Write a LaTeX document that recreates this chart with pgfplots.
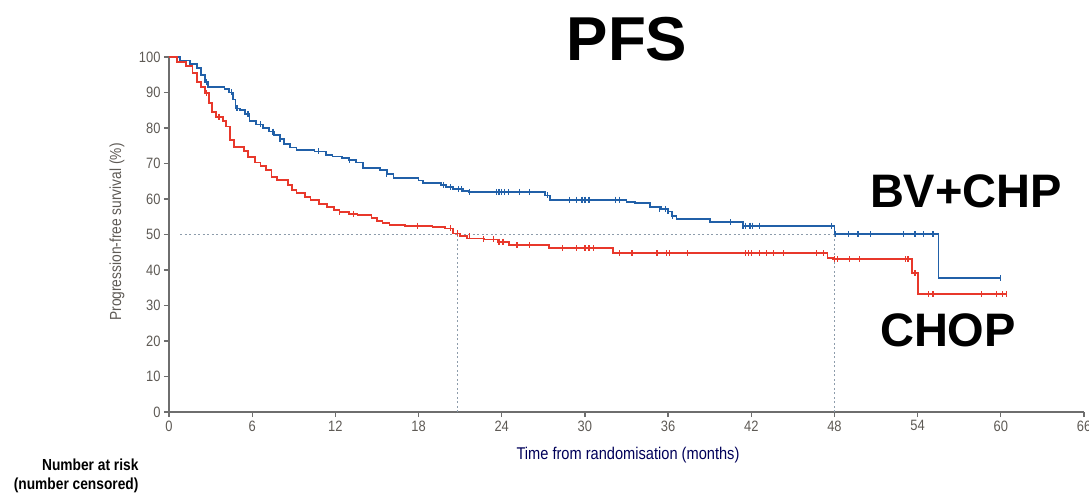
\documentclass[border=0pt]{standalone}
\usepackage{fontspec}
\setmainfont{Liberation Sans}
\newfontfamily\condfont[FakeStretch=0.86]{Liberation Sans}
\usepackage{pgfplots}
\pgfplotsset{compat=1.18}

\definecolor{bvblue}{HTML}{2160A8}
\definecolor{chopred}{HTML}{E8382B}
\definecolor{refgray}{HTML}{8D9CAB}
\definecolor{axgray}{HTML}{6E6E6E}
\definecolor{tickcol}{HTML}{5E5A55}

\begin{document}
\begin{tikzpicture}
\useasboundingbox (-169pt,-81pt) rectangle (920pt,412pt);
\begin{axis}[
    at={(0,0)}, anchor=origin,
    scale only axis,
    width=915pt, height=355pt,
    xmin=0, xmax=66, ymin=0, ymax=100,
    axis x line=bottom, axis y line=left,
    axis line style={-, axgray, line width=1.8pt},
    xtick={0,6,...,66}, ytick={0,10,...,100},
    tick align=outside,
    major tick length=5pt,
    tick style={axgray, line width=1.3pt},
    ticklabel style={font=\condfont\fontsize{15}{17}\selectfont, text=tickcol},
    /pgf/number format/assume math mode=true,
    clip=false,
]
% reference lines
\addplot[refgray, line width=1.1pt, dash pattern=on 2pt off 2.5pt] coordinates {(0.8,50) (48,50)};
\addplot[refgray, line width=1.1pt, dash pattern=on 2pt off 2.5pt] coordinates {(20.8,0) (20.8,50.3)};
\addplot[refgray, line width=1.1pt, dash pattern=on 2pt off 2.5pt] coordinates {(48,0) (48,52.5)};

% BV+CHP
\addplot[const plot, bvblue, line width=1.8pt] coordinates {
(0,100) (0.8,99) (1.5,98) (2.0,97) (2.3,95) (2.6,93) (2.8,91.6) (4.0,91) (4.3,90)
(4.6,88) (4.8,85.5) (5.1,85) (5.5,84) (5.8,82) (6.3,81) (6.8,80) (7.2,79) (7.6,78)
(8.0,77) (8.3,75.5) (8.7,74.5) (9.2,73.7) (10.5,73.4) (11.3,72.5) (11.8,72) (12.5,71.5)
(13.0,71) (13.5,70.3) (14.0,68.8) (15.2,68.2) (15.7,67) (16.2,66) (18.0,65.2) (18.3,64.5)
(19.6,64) (20.0,63.3) (20.5,62.8) (21.2,62.2) (21.6,62.0) (27.1,61) (27.5,59.8) (33.0,59.2)
(33.6,58.8) (34.7,57.8) (35.5,57.2) (36.0,56.5) (36.3,55.3) (36.6,54.4) (39.0,53.5)
(41.4,52.5) (48.0,50.1) (55.5,37.7) (60.0,37.7)
};
\addplot[only marks, mark=|, mark size=3pt, bvblue, mark options={line width=1.3pt}] coordinates {
(2.7,93) (4.5,90) (4.9,85.5) (5.7,84) (6.6,81) (7.5,79) (8.0,77) (10.8,73.4) (13.0,71)
(15.7,67) (19.8,64) (20.3,63.3) (20.9,62.8) (21.1,62.8) (21.7,62.0) (23.6,62.0) (23.8,62.0)
(24.0,62.0) (24.2,62.0) (24.5,62.0) (25.3,62.0) (26.0,62.0) (27.3,61) (28.9,59.8) (29.4,59.8)
(29.8,59.8) (30.0,59.8) (30.3,59.8) (32.2,59.8) (32.5,59.8) (35.4,57.2) (35.8,57.2) (36.0,56.5)
(36.3,55.3) (40.5,53.5) (41.4,52.5) (41.6,52.5) (41.9,52.5) (42.1,52.5) (42.6,52.5) (47.8,52.5)
(48.1,50.1) (49.0,50.1) (49.7,50.1) (50.6,50.1) (53.0,50.1) (53.8,50.1) (54.4,50.1) (55.1,50.1)
(60.0,37.7)
};

% CHOP
\addplot[const plot, chopred, line width=1.8pt] coordinates {
(0,100) (0.6,98.5) (1.2,97.5) (1.7,95.5) (2.0,93) (2.3,91.6) (2.6,89.8) (2.9,87) (3.1,84.6)
(3.4,83.2) (3.9,82) (4.1,80.4) (4.4,76.6) (4.7,74.7) (5.4,73.5) (5.7,71.9) (6.2,70.3)
(6.6,69.3) (7.0,68.2) (7.4,66.3) (7.8,65.4) (8.6,64) (8.9,62.5) (9.2,61.6) (9.8,60.5)
(10.2,59.7) (10.8,58.7) (11.4,57.8) (11.9,57) (12.3,56.4) (13.0,55.8) (13.6,55.5) (14.6,54.6)
(15.0,53.8) (15.4,53.2) (15.9,52.7) (17.0,52.4) (19.0,52.2) (19.9,51.7) (20.5,50.3) (21.0,49.5)
(21.5,48.9) (22.7,48.6) (23.7,48.0) (24.5,47.0) (27.4,46.1) (32.0,44.7) (47.5,43.3) (47.9,43.0)
(53.6,39.1) (54.0,33.2) (60.4,33.2)
};
\addplot[only marks, mark=|, mark size=3pt, chopred, mark options={line width=1.3pt}] coordinates {
(2.7,89.8) (3.6,83.2) (12.3,56.4) (13.3,55.8) (17.9,52.4) (20.3,51.7) (20.8,50.3) (21.7,49.5)
(22.7,48.6) (23.4,48.6) (23.8,48.0) (24.1,48.0) (25.1,47.0) (26.0,47.0) (28.4,46.1) (29.4,46.1)
(30.0,46.1) (30.3,46.1) (30.6,46.1) (32.5,44.7) (33.4,44.7) (35.2,44.7) (35.9,44.7) (36.1,44.7)
(37.4,44.7) (41.6,44.7) (41.8,44.7) (42.0,44.7) (42.6,44.7) (43.1,44.7) (43.6,44.7) (44.3,44.7)
(46.7,44.7) (47.2,44.7) (48.0,43.0) (48.2,43.0) (49.1,43.0) (49.8,43.0) (53.1,43.0) (53.3,43.0)
(53.8,39.1) (54.8,33.2) (55.1,33.2) (58.6,33.2) (59.7,33.2) (60.1,33.2) (60.4,33.2)
};
\end{axis}

% titles and labels
\node[font=\bfseries\fontsize{62}{64}\selectfont] at (458pt,373pt) {PFS};
\node[font=\bfseries\fontsize{47}{50}\selectfont] at (797pt,221pt) {BV+CHP};
\node[font=\bfseries\fontsize{47}{50}\selectfont] at (779pt,82pt) {CHOP};
\node[rotate=90, font=\condfont\fontsize{16}{18}\selectfont, text=tickcol] at (-52pt,180pt) {Progression-free survival (\%)};
\node[font=\condfont\fontsize{17}{19}\selectfont, text=black!65!blue] at (459pt,-43pt) {Time from randomisation (months)};
\node[anchor=east, font=\condfont\bfseries\fontsize{16}{18}\selectfont] at (-27pt,-53pt) {Number at risk};
\node[anchor=east, font=\condfont\bfseries\fontsize{16}{18}\selectfont] at (-27pt,-73pt) {(number censored)};
\end{tikzpicture}
\end{document}
